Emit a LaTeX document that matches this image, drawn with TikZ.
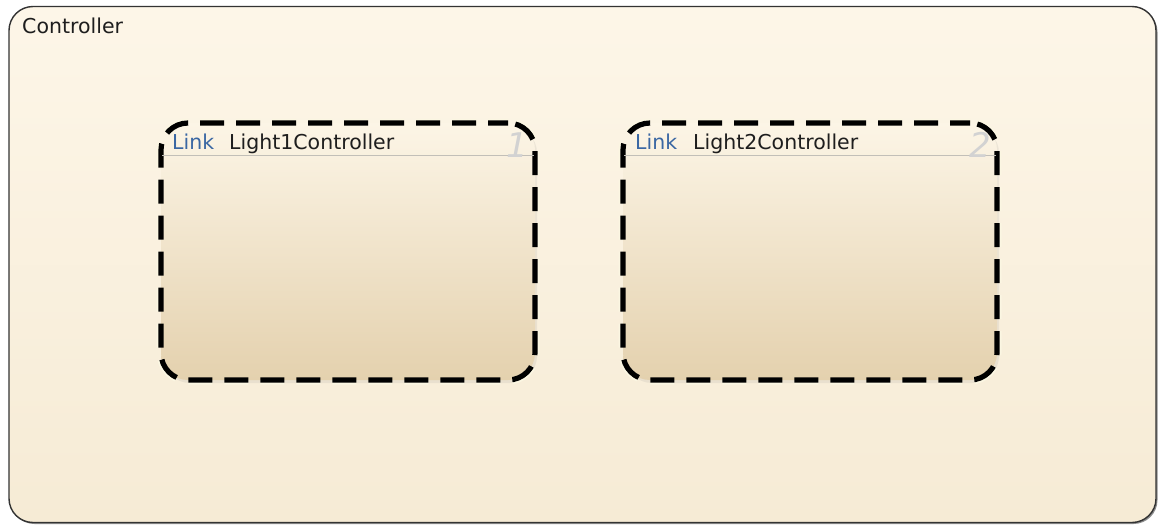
\documentclass[tikz,border=0pt]{standalone}
\usepackage{fontspec}
\setmainfont{DejaVu Sans}
\usetikzlibrary{shadows}
\definecolor{outtop}{HTML}{FDF6E8}
\definecolor{outbot}{HTML}{F6EBD5}
\definecolor{intop}{HTML}{FCF5E6}
\definecolor{inbot}{HTML}{E4D1AE}
\definecolor{glow}{HTML}{FBF6E2}
\definecolor{linkblue}{HTML}{3A67A3}
\definecolor{txt}{HTML}{1E1E1E}
\definecolor{numgray}{HTML}{D2D2D2}
\definecolor{hdr}{HTML}{C2BFB8}
\tikzset{
  outerbox/.style={draw=black!80, line width=1.4pt, rounded corners=24pt,
    top color=outtop, bottom color=outbot, inner sep=0pt, outer sep=0pt,
    minimum width=1147pt, minimum height=516pt,
    drop shadow={opacity=0.6, shadow xshift=1.5pt, shadow yshift=-1.5pt, fill=black!75}},
  statebox/.style={rounded corners=27pt, top color=intop, bottom color=inbot,
    inner sep=0pt, outer sep=0pt, minimum width=374pt, minimum height=257pt,
    drop shadow={opacity=0.12, shadow xshift=2pt, shadow yshift=-3pt},
    preaction={draw=glow, line width=9pt},
    draw=black, line width=5.2pt, dash pattern=on 24pt off 12pt, dash phase=4pt},
  lbl/.style={font=\fontsize{20.5}{24}\selectfont, anchor=base west, inner sep=0pt, text=txt},
  lnk/.style={lbl, text=linkblue},
  num/.style={font=\fontsize{34}{38}\selectfont\itshape, anchor=base, inner sep=0pt, text=numgray},
  hline/.style={draw=hdr, line width=0.8pt}
}
\begin{document}
\begin{tikzpicture}[x=1pt, y=-1pt]
\useasboundingbox (0,0) rectangle (1158,525);
\fill[white] (0,0) rectangle (1158,525);
\node[outerbox] (ctrl) at (582.5,264.5) {};
\node[lbl] (ctrltxt) at (22,33) {Controller};
% Light1Controller
\node[statebox] (l1) at (348,251.5) {};
\coordinate (l1a) at (162,155);
\coordinate (l1b) at (534,155);
\draw[hline] (l1a) -- (l1b);
\node[num] (n1) at (517,157) {1};
\node[lnk] (k1) at (172,149) {Link};
\node[lbl] (t1) at (229,149) {Light1Controller};
% Light2Controller
\node[statebox] (l2) at (810,251.5) {};
\coordinate (l2a) at (624,155);
\coordinate (l2b) at (996,155);
\draw[hline] (l2a) -- (l2b);
\node[num] (n2) at (980,157) {2};
\node[lnk] (k2) at (635,149) {Link};
\node[lbl] (t2) at (693,149) {Light2Controller};
\end{tikzpicture}
\end{document}
